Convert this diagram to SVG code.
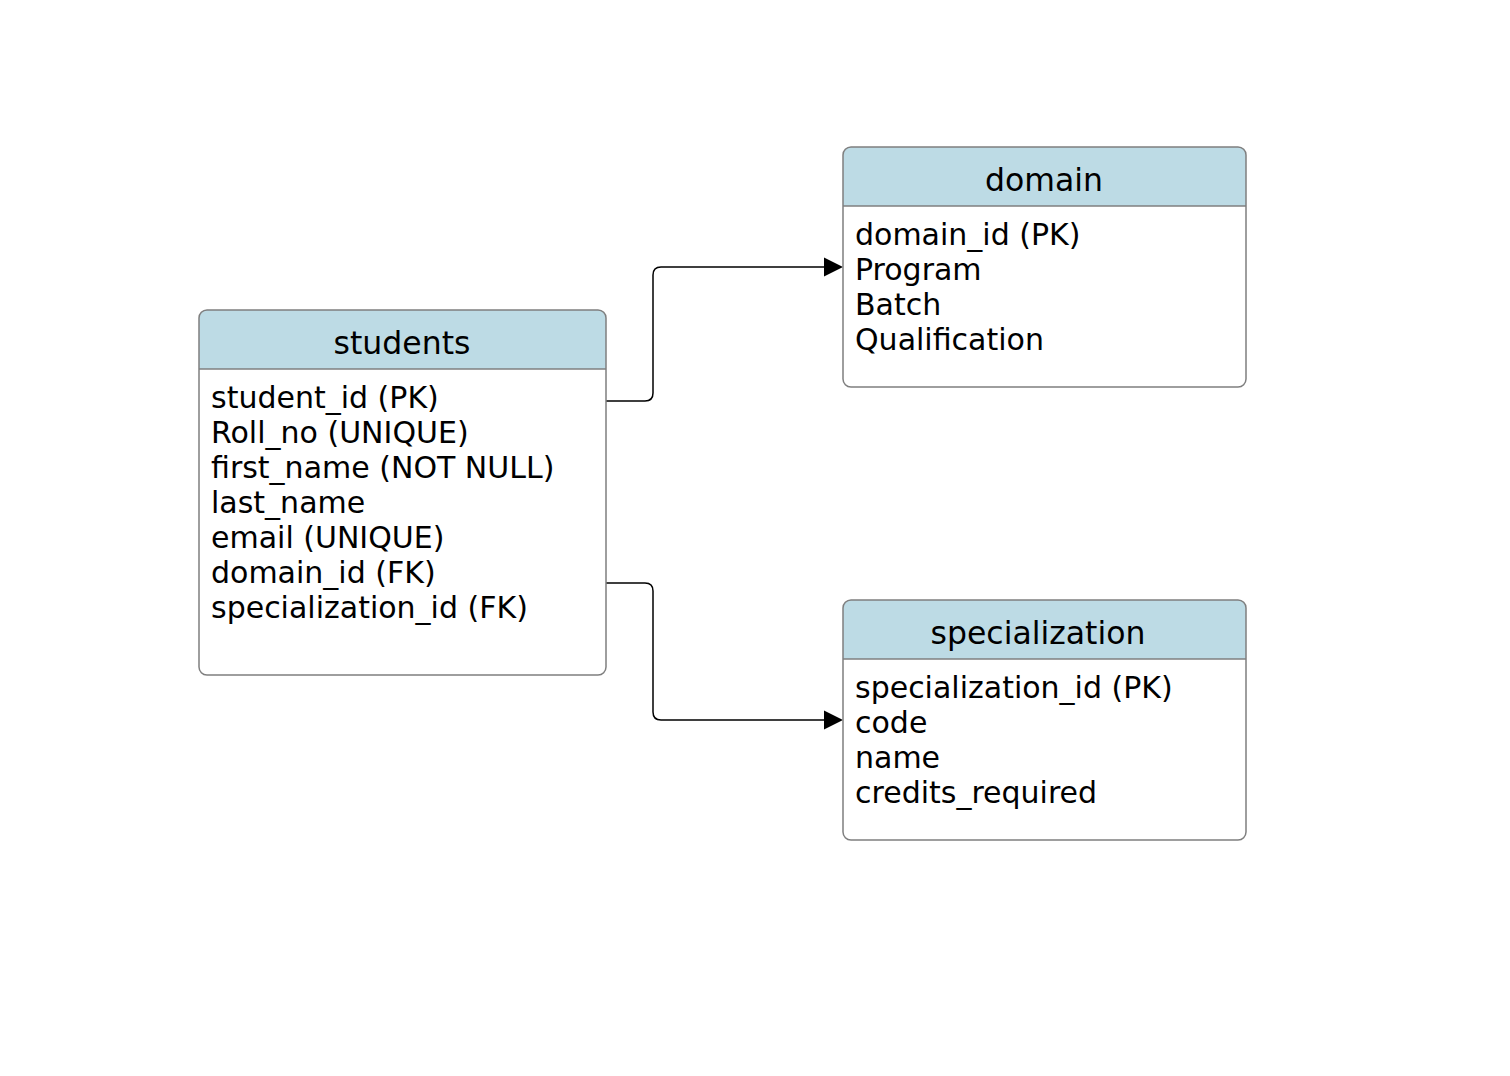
<svg xmlns="http://www.w3.org/2000/svg" width="1510" height="1076" viewBox="0 0 1510 1076">
<style>
.box{fill:none;stroke:#7f7f7f;stroke-width:1.5}
.hdr{fill:#bddbe5}
.sep{stroke:#7f7f7f;stroke-width:1.5}
.t{font-family:"DejaVu Sans",Verdana,sans-serif;font-size:30px;fill:#000}
.h{text-anchor:middle;font-size:31.5px}
.edge{fill:none;stroke:#000;stroke-width:1.5}
</style>
<defs>
<clipPath id="c1"><rect x="199" y="310" width="407" height="365" rx="8"/></clipPath>
<clipPath id="c2"><rect x="843" y="147" width="403" height="240" rx="8"/></clipPath>
<clipPath id="c3"><rect x="843" y="600" width="403" height="240" rx="8"/></clipPath>
</defs>
<rect width="1510" height="1076" fill="#ffffff"/>
<g id="connectors">
<path class="edge" d="M606,401 H645 Q653,401 653,393 V275 Q653,267 661,267 H825" />
<path d="M824,257.5 L843,267 L824,276.5 Z" fill="#000"/>
<path class="edge" d="M606,583 H645 Q653,583 653,591 V712 Q653,720 661,720 H825" />
<path d="M824,710.5 L843,720 L824,729.5 Z" fill="#000"/>
</g>
<g id="students">
<rect x="199" y="310" width="407" height="365" rx="8" fill="#fff"/>
<rect x="199" y="310" width="407" height="59" class="hdr" clip-path="url(#c1)"/>
<line x1="199" y1="369" x2="606" y2="369" class="sep"/>
<rect x="199" y="310" width="407" height="365" rx="8" class="box"/>
<text class="t h" x="402" y="354">students</text>
<text class="t" x="211" y="408">student_id (PK)</text>
<text class="t" x="211" y="443">Roll_no (UNIQUE)</text>
<text class="t" x="211" y="478">first_name (NOT NULL)</text>
<text class="t" x="211" y="513">last_name</text>
<text class="t" x="211" y="548">email (UNIQUE)</text>
<text class="t" x="211" y="583">domain_id (FK)</text>
<text class="t" x="211" y="618">specialization_id (FK)</text>
</g>
<g id="domain">
<rect x="843" y="147" width="403" height="240" rx="8" fill="#fff"/>
<rect x="843" y="147" width="403" height="59" class="hdr" clip-path="url(#c2)"/>
<line x1="843" y1="206" x2="1246" y2="206" class="sep"/>
<rect x="843" y="147" width="403" height="240" rx="8" class="box"/>
<text class="t h" x="1044" y="191">domain</text>
<text class="t" x="855" y="245">domain_id (PK)</text>
<text class="t" x="855" y="280">Program</text>
<text class="t" x="855" y="315">Batch</text>
<text class="t" x="855" y="350">Qualification</text>
</g>
<g id="specialization">
<rect x="843" y="600" width="403" height="240" rx="8" fill="#fff"/>
<rect x="843" y="600" width="403" height="59" class="hdr" clip-path="url(#c3)"/>
<line x1="843" y1="659" x2="1246" y2="659" class="sep"/>
<rect x="843" y="600" width="403" height="240" rx="8" class="box"/>
<text class="t h" x="1038" y="644">specialization</text>
<text class="t" x="855" y="698">specialization_id (PK)</text>
<text class="t" x="855" y="733">code</text>
<text class="t" x="855" y="768">name</text>
<text class="t" x="855" y="803">credits_required</text>
</g>
</svg>
